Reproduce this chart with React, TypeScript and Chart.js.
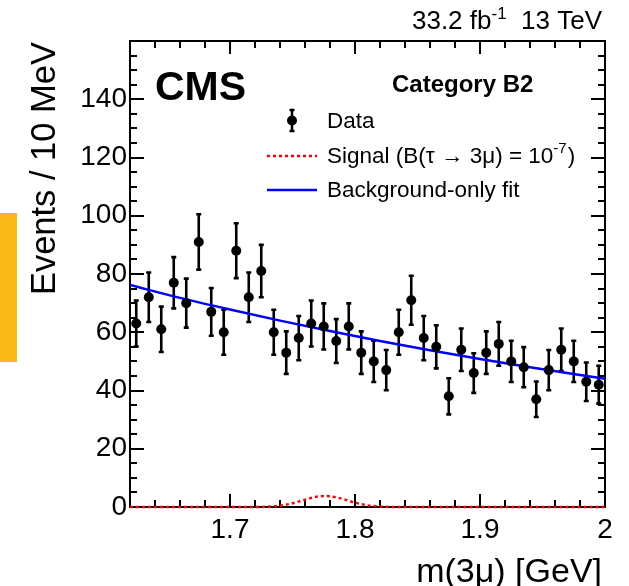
import React, { useEffect, useRef } from "react";
import { Chart, registerables } from "chart.js";

Chart.register(...registerables);

// ---- data ----
const massBins = [
  1.625, 1.635, 1.645, 1.655, 1.665, 1.675, 1.685, 1.695, 1.705, 1.715,
  1.725, 1.735, 1.745, 1.755, 1.765, 1.775, 1.785, 1.795, 1.805, 1.815,
  1.825, 1.835, 1.845, 1.855, 1.865, 1.875, 1.885, 1.895, 1.905, 1.915,
  1.925, 1.935, 1.945, 1.955, 1.965, 1.975, 1.985, 1.995,
];
const dataCounts = [
  63, 72, 61, 77, 70, 91, 67, 60, 88, 72,
  81, 60, 53, 58, 63, 62, 57, 62, 53, 50,
  47, 60, 71, 58, 55, 38, 54, 46, 53, 56,
  50, 48, 37, 47, 54, 50, 43, 42,
];
const dataErrors = [
  7.9, 8.5, 7.8, 8.8, 8.4, 9.5, 8.2, 7.7, 9.4, 8.5,
  9.0, 7.7, 7.3, 7.6, 7.9, 7.9, 7.5, 7.9, 7.3, 7.1,
  6.9, 7.7, 8.4, 7.6, 7.4, 6.2, 7.3, 6.8, 7.3, 7.5,
  7.1, 6.9, 6.1, 6.9, 7.3, 7.1, 6.6, 6.5,
];
const fitMass = [1.62, 1.66, 1.7, 1.74, 1.78, 1.82, 1.86, 1.9, 1.94, 1.98, 2.0];
const fitEvents = [76.2, 71.8, 67.8, 64.0, 60.4, 57.0, 53.8, 50.8, 48.0, 45.3, 44.0];
const signalMass = [1.62, 1.72, 1.73, 1.74, 1.75, 1.76, 1.77, 1.776, 1.78, 1.79, 1.8, 1.81, 1.82, 1.83, 2.0];
const signalEvents = [0, 0, 0.12, 0.46, 1.27, 2.5, 3.57, 3.8, 3.7, 2.8, 1.5, 0.57, 0.16, 0, 0];

const xTickValues = [1.7, 1.8, 1.9, 2.0];
const xTickLabels = ["1.7", "1.8", "1.9", "2"];
const yTickValues = [0, 20, 40, 60, 80, 100, 120, 140];
const yTickLabels = ["0", "20", "40", "60", "80", "100", "120", "140"];

const FONT = "'Liberation Sans', Arial, Helvetica, sans-serif";

const hepPlugin = {
  id: "hepDecor",
  beforeDatasetsDraw(chart: any) {
    const ctx = chart.ctx;
    const { left, right, top, bottom } = chart.chartArea;
    const xs = chart.scales.x;
    const ys = chart.scales.y;
    ctx.save();
    ctx.strokeStyle = "#000";
    ctx.lineWidth = 2;
    ctx.strokeRect(left, top, right - left, bottom - top);
    ctx.beginPath();
    // x ticks every 0.02, major every 0.1
    for (let k = 82; k < 100; k++) {
      const v = k * 0.02;
      const px = Math.round(xs.getPixelForValue(v));
      const len = k % 5 === 0 ? 13 : 7;
      ctx.moveTo(px, bottom);
      ctx.lineTo(px, bottom - len);
      ctx.moveTo(px, top);
      ctx.lineTo(px, top + len);
    }
    // y ticks every 5, major every 20
    for (let k = 1; k < 32; k++) {
      const v = k * 5;
      const py = Math.round(ys.getPixelForValue(v));
      const len = k % 4 === 0 ? 14 : 7;
      ctx.moveTo(left, py);
      ctx.lineTo(left + len, py);
      ctx.moveTo(right, py);
      ctx.lineTo(right - len, py);
    }
    ctx.stroke();

    // error bars
    ctx.lineWidth = 2.6;
    ctx.beginPath();
    for (let i = 0; i < massBins.length; i++) {
      const px = xs.getPixelForValue(massBins[i]);
      const pyHi = ys.getPixelForValue(dataCounts[i] + dataErrors[i]);
      const pyLo = ys.getPixelForValue(dataCounts[i] - dataErrors[i]);
      ctx.moveTo(px, pyHi);
      ctx.lineTo(px, pyLo);
      ctx.moveTo(px - 2.5, pyHi);
      ctx.lineTo(px + 2.5, pyHi);
      ctx.moveTo(px - 2.5, pyLo);
      ctx.lineTo(px + 2.5, pyLo);
    }
    ctx.stroke();
    ctx.restore();
  },
  afterDraw(chart: any) {
    const ctx = chart.ctx;
    ctx.save();
    // orange side marker
    ctx.fillStyle = "#FCB814";
    ctx.fillRect(0, 213, 17, 149);

    ctx.fillStyle = "#000";
    ctx.textBaseline = "alphabetic";

    // CMS
    ctx.textAlign = "left";
    ctx.font = `bold 41px ${FONT}`;
    ctx.fillText("CMS", 155, 100);

    // Category
    ctx.font = `bold 24px ${FONT}`;
    ctx.fillText("Category B2", 392, 92);

    // lumi (right aligned)
    const lumiA = "33.2 fb";
    const lumiSup = "-1";
    const lumiB = "  13 TeV";
    ctx.font = `26px ${FONT}`;
    const wA = ctx.measureText(lumiA).width;
    const wB = ctx.measureText(lumiB).width;
    ctx.font = `17px ${FONT}`;
    const wS = ctx.measureText(lumiSup).width;
    const x0 = 602 - wA - wS - wB;
    ctx.font = `26px ${FONT}`;
    ctx.fillText(lumiA, x0, 29);
    ctx.font = `17px ${FONT}`;
    ctx.fillText(lumiSup, x0 + wA, 19);
    ctx.font = `26px ${FONT}`;
    ctx.fillText(lumiB, x0 + wA + wS, 29);

    // legend
    const lx1 = 267, lx2 = 317, tx = 327;
    ctx.strokeStyle = "#000";
    ctx.lineWidth = 2.5;
    ctx.beginPath();
    ctx.moveTo(292, 110);
    ctx.lineTo(292, 131);
    ctx.moveTo(289.5, 110);
    ctx.lineTo(294.5, 110);
    ctx.moveTo(289.5, 131);
    ctx.lineTo(294.5, 131);
    ctx.stroke();
    ctx.beginPath();
    ctx.arc(292, 120.5, 5, 0, Math.PI * 2);
    ctx.fill();
    ctx.font = `22.5px ${FONT}`;
    ctx.fillText("Data", tx, 127.5);

    // signal
    ctx.strokeStyle = "#ff0000";
    ctx.setLineDash([3, 3]);
    ctx.beginPath();
    ctx.moveTo(lx1, 156);
    ctx.lineTo(lx2, 156);
    ctx.stroke();
    ctx.setLineDash([]);
    const sA = "Signal (B(\u03c4 \u2192 3\u03bc) = 10";
    ctx.font = `22.5px ${FONT}`;
    ctx.fillText(sA, tx, 163);
    const wsA = ctx.measureText(sA).width;
    ctx.font = `15px ${FONT}`;
    ctx.fillText("-7", tx + wsA, 153);
    const ws7 = ctx.measureText("-7").width;
    ctx.font = `22.5px ${FONT}`;
    ctx.fillText(")", tx + wsA + ws7 + 1, 163);

    // background
    ctx.strokeStyle = "#0000ff";
    ctx.lineWidth = 2.5;
    ctx.beginPath();
    ctx.moveTo(lx1, 190);
    ctx.lineTo(lx2, 190);
    ctx.stroke();
    ctx.fillText("Background-only fit", tx, 197);

    // axis titles
    ctx.font = `34px ${FONT}`;
    ctx.textAlign = "right";
    ctx.fillText("m(3\u03bc) [GeV]", 602, 582);
    ctx.translate(55, 42);
    ctx.rotate(-Math.PI / 2);
    ctx.font = `34.5px ${FONT}`;
    ctx.fillText("Events / 10 MeV", 0, 0);
    ctx.restore();
  },
};

export default function App() {
  const canvasRef = useRef<HTMLCanvasElement | null>(null);

  useEffect(() => {
    if (!canvasRef.current) return;
    const chart = new Chart(canvasRef.current, {
      type: "scatter",
      data: {
        datasets: [
          {
            label: "Data",
            data: massBins.map((m, i) => ({ x: m, y: dataCounts[i] })),
            pointRadius: 5,
            pointBackgroundColor: "#000",
            pointBorderWidth: 0,
            showLine: false,
          },
          {
            label: "Background-only fit",
            data: fitMass.map((m, i) => ({ x: m, y: fitEvents[i] })),
            showLine: true,
            borderColor: "#0000ff",
            borderWidth: 2.5,
            pointRadius: 0,
            cubicInterpolationMode: "monotone",
          },
          {
            label: "Signal",
            data: signalMass.map((m, i) => ({ x: m, y: signalEvents[i] })),
            showLine: true,
            borderColor: "#ff0000",
            borderWidth: 2.5,
            borderDash: [3, 3],
            pointRadius: 0,
            cubicInterpolationMode: "monotone",
            clip: 4,
          } as any,
        ],
      },
      options: {
        animation: false,
        responsive: false,
        maintainAspectRatio: false,
        layout: { padding: { top: 41, right: 24, left: 0, bottom: 0 } },
        plugins: {
          legend: { display: false },
          tooltip: { enabled: false },
        },
        scales: {
          x: {
            type: "linear",
            min: 1.62,
            max: 2.0,
            grid: { display: false, drawTicks: false },
            border: { display: false },
            afterBuildTicks: (axis: any) => {
              axis.ticks = xTickValues.map((v) => ({ value: v }));
            },
            afterFit: (axis: any) => {
              axis.height = 79;
            },
            ticks: {
              autoSkip: false,
              maxRotation: 0,
              padding: 6,
              color: "#000",
              font: { family: FONT, size: 28 },
              callback: (v: any) => {
                const i = xTickValues.findIndex((t) => Math.abs(t - v) < 1e-6);
                return i >= 0 ? xTickLabels[i] : "";
              },
            },
          },
          y: {
            type: "linear",
            min: 0,
            max: 160,
            grid: { display: false, drawTicks: false },
            border: { display: false },
            afterBuildTicks: (axis: any) => {
              axis.ticks = yTickValues.map((v) => ({ value: v }));
            },
            afterFit: (axis: any) => {
              axis.width = 130;
            },
            ticks: {
              autoSkip: false,
              padding: 3,
              color: "#000",
              font: { family: FONT, size: 28 },
              callback: (v: any) => {
                const i = yTickValues.findIndex((t) => Math.abs(t - v) < 1e-6);
                return i >= 0 ? yTickLabels[i] : "";
              },
            },
          },
        },
      },
      plugins: [hepPlugin],
    } as any);
    return () => chart.destroy();
  }, []);

  return (
    <div style={{ position: "fixed", left: 0, top: 0, width: 629, height: 586, background: "#fff" }}>
      <canvas ref={canvasRef} width={629} height={586} style={{ width: 629, height: 586, display: "block" }} />
    </div>
  );
}
